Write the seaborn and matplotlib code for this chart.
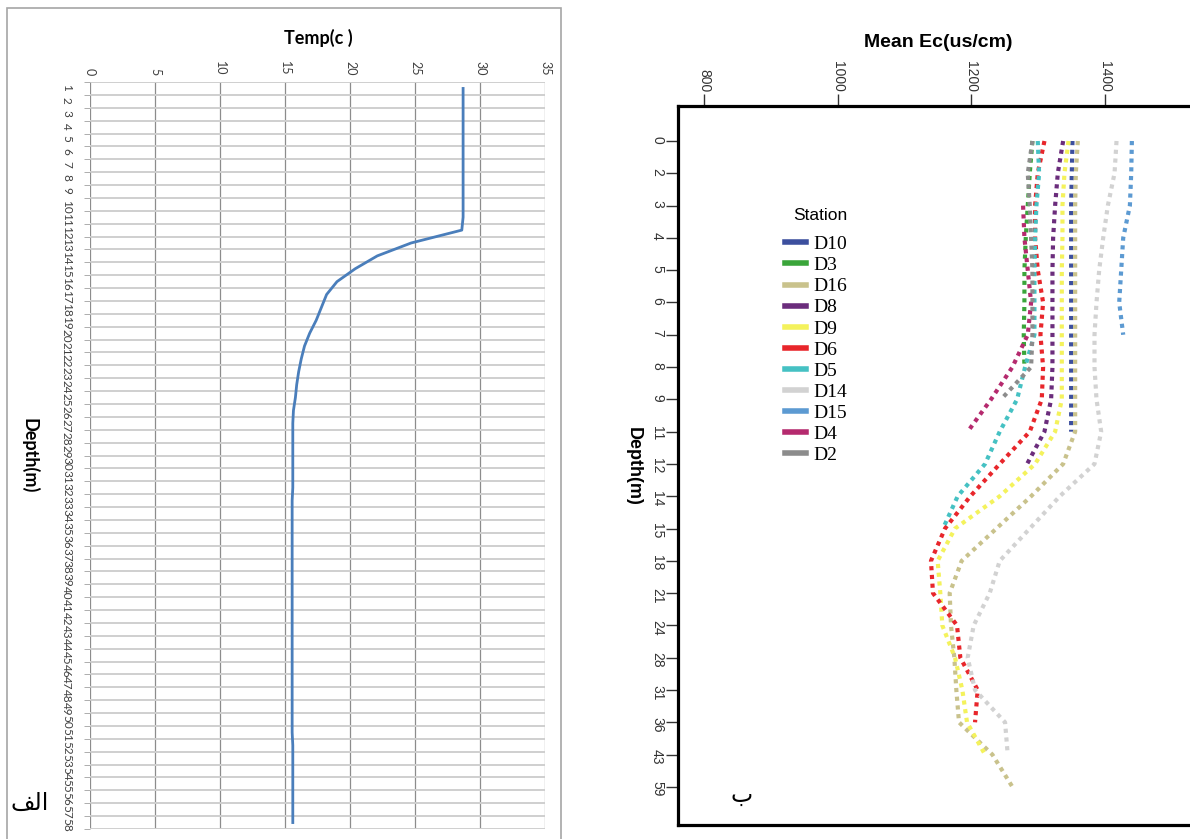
import numpy as np
import pandas as pd
import seaborn as sns
import matplotlib.pyplot as plt
from matplotlib.patches import Rectangle

# ---- left panel: temperature profile (depth categories 1..58)
depth_cat = list(range(1, 59))
temp_c = [28.7, 28.7, 28.7, 28.7, 28.7, 28.7, 28.7, 28.7, 28.7, 28.7,
          28.7, 28.6, 24.7, 22.1, 20.4, 19.0, 18.2, 17.8, 17.4, 16.9,
          16.5, 16.25, 16.05, 15.9, 15.8, 15.65, 15.6, 15.6, 15.6, 15.6,
          15.6, 15.6, 15.55, 15.55, 15.55, 15.55, 15.55, 15.55, 15.55, 15.55,
          15.55, 15.55, 15.55, 15.55, 15.55, 15.55, 15.55, 15.55, 15.55, 15.55,
          15.55, 15.6, 15.6, 15.6, 15.6, 15.6, 15.6, 15.6]

# ---- right panel: mean EC per station along depth levels
depth_labels = ['0', '2', '3', '4', '5', '6', '7', '8', '9', '11', '12',
                '14', '15', '18', '21', '24', '28', '31', '36', '43', '59']
stations = ['D10', 'D3', 'D16', 'D8', 'D9', 'D6', 'D5', 'D14', 'D15', 'D4', 'D2']
station_colors = ['#3c4f9e', '#3aa53a', '#c9c28c', '#6b2d7c', '#f4f25c', '#e8262b',
                  '#45c1c3', '#d2d2d2', '#5c9ad2', '#b52a6e', '#8c8c8c']

d10 = [1352, 1351, 1350, 1350, 1350, 1350, 1350, 1350, 1350, 1350]
d3 = [1292, 1288, 1285, 1282, 1280, 1280, 1279, 1280]
d16 = [1360, 1357, 1356, 1356, 1356, 1356, 1356, 1356, 1356, 1356, 1338,
       1290, 1238, 1186, 1168, 1170, 1175, 1178, 1182, 1232, 1262]
d8 = [1338, 1330, 1326, 1323, 1322, 1322, 1322, 1322, 1320, 1310, 1284]
d9 = [1346, 1340, 1337, 1337, 1336, 1336, 1336, 1336, 1336, 1326, 1296,
      1243, 1176, 1150, 1154, 1157, 1176, 1187, 1194, 1221]
d6 = [1310, 1300, 1296, 1296, 1300, 1308, 1304, 1308, 1306, 1288, 1243,
      1199, 1161, 1140, 1143, 1179, 1184, 1210, 1206]
d5 = [1300, 1302, 1298, 1296, 1295, 1295, 1295, 1281, 1269, 1243, 1221, 1180, 1158]
d14 = [1418, 1415, 1405, 1398, 1392, 1388, 1385, 1385, 1388, 1395, 1385,
       1333, 1288, 1243, 1228, 1204, 1195, 1206, 1251, 1255]
d15 = [1441, 1440, 1438, 1428, 1425, 1422, 1428]
d4 = [None, None, 1278, 1280, 1285, 1290, 1285, 1262, 1230, 1195]
d2 = [1292, 1285, 1288, 1290, 1292, 1292, 1292, 1290, 1245]

series = dict(zip(stations, [d10, d3, d16, d8, d9, d6, d5, d14, d15, d4, d2]))
rows = []
for st, vals in series.items():
    for i, v in enumerate(vals):
        if v is not None:
            rows.append((st, i, v))
ec = pd.DataFrame(rows, columns=['station', 'level', 'ec'])

fig = plt.figure(figsize=(11.9, 8.39), dpi=100)
W, H = 1190, 839

# frame round the left (excel) chart
fig.patches.append(Rectangle((7 / W, -0.01), (561 - 7) / W, 1 - 8 / H + 0.01,
                             transform=fig.transFigure, fill=False,
                             edgecolor='#a6a6a6', lw=1.2))

# ---------------- left panel
ax1 = fig.add_axes([90 / W, 1 - 829 / H, 455 / W, 747 / H])
sns.lineplot(x=temp_c, y=depth_cat, orient='y', ax=ax1, color='#4a7ebb', lw=2)
ax1.set_xlim(0, 35)
ax1.set_ylim(58.5, 0.5)
ax1.xaxis.tick_top()
ax1.set_xticks(range(0, 36, 5))
ax1.set_yticks(depth_cat)
ax1.set_yticklabels([str(d) for d in depth_cat])
ax1.set_yticks(np.arange(0.5, 59, 1), minor=True)
ax1.tick_params(axis='x', length=0, pad=5, labelrotation=-90, labelsize=9,
                labelcolor='#404040')
ax1.tick_params(axis='y', which='major', length=0, pad=13, labelrotation=-90,
                labelsize=8.5, labelcolor='#404040')
ax1.tick_params(axis='y', which='minor', length=4, color='#a0a0a0')
for lab in ax1.get_xticklabels() + ax1.get_yticklabels():
    lab.set_family('Lato')
ax1.grid(axis='y', which='minor', color='#cfcfcf', lw=1.4)
ax1.grid(axis='x', which='major', color='#8c8c8c', lw=0.9)
ax1.set_axisbelow(True)
for s in ax1.spines.values():
    s.set_visible(False)
ax1.xaxis.set_label_position('top')
ax1.set_xlabel('Temp(c )', fontsize=13, fontweight='bold', family='Lato', va='center')
ax1.xaxis.set_label_coords(0.501, 1.059)
ax1.set_ylabel('Depth(m)', fontsize=13, fontweight='bold', family='Lato',
               rotation=-90, va='center', ha='center')
ax1.yaxis.set_label_coords(-0.132, 0.5)

# ---------------- right panel
ax2 = fig.add_axes([678 / W, 1 - 825 / H, (1230 - 678) / W, (825 - 106) / H])
sns.lineplot(data=ec, x='ec', y='level', hue='station', hue_order=stations,
             palette=station_colors, orient='y', ax=ax2, lw=3,
             linestyle=(0, (1, 1.1)))
ax2.set_xlim(761, 1588)
ax2.set_ylim(21.18, -1.084)
ax2.xaxis.tick_top()
ax2.set_xticks([800, 1000, 1200, 1400])
ax2.set_yticks(range(len(depth_labels)))
ax2.set_yticklabels(depth_labels)
ax2.tick_params(axis='both', length=9, width=1, color='#333333', pad=1,
                labelrotation=-90, labelsize=10, labelcolor='#333333')
for lab in ax2.get_xticklabels() + ax2.get_yticklabels():
    lab.set_family('Liberation Sans')
for s in ax2.spines.values():
    s.set_linewidth(2.3)
    s.set_color('black')
ax2.xaxis.set_label_position('top')
ax2.set_xlabel('Mean Ec(us/cm)', fontsize=14, fontweight='bold',
               family='Liberation Sans', va='center')
ax2.xaxis.set_label_coords(0.471, 1.089)
ax2.set_ylabel('Depth(m)', fontsize=13, fontweight='bold', family='Liberation Sans',
               rotation=-90, va='center', ha='center')
ax2.yaxis.set_label_coords(-0.0815, 0.499)

handles, labels = ax2.get_legend_handles_labels()
leg = ax2.legend(handles, labels, title='Station', loc='upper left',
                 bbox_to_anchor=(785 / W, 1 - 208 / H), bbox_transform=fig.transFigure,
                 frameon=False, borderpad=0, borderaxespad=0, handlelength=1.1,
                 handletextpad=0.35, labelspacing=0.18, alignment='right',
                 prop=dict(family='Liberation Serif', size=14),
                 title_fontproperties=dict(family='Liberation Sans', size=12.5))
leg._legend_box.sep = 9
for h in leg.legend_handles:
    h.set_linestyle('-')
    h.set_linewidth(4)

# panel letters (alef-lam-feh in visual order, and beh)
fig.text(30 / W, 1 - 803 / H, '\ufed2\ufedf\u0627', fontsize=17, family='DejaVu Sans',
         ha='center', va='center')
fig.text(742 / W, 1 - 795 / H, '\u0628', fontsize=17, family='DejaVu Sans',
         ha='center', va='center')

fig.savefig('out.png', dpi=100)
